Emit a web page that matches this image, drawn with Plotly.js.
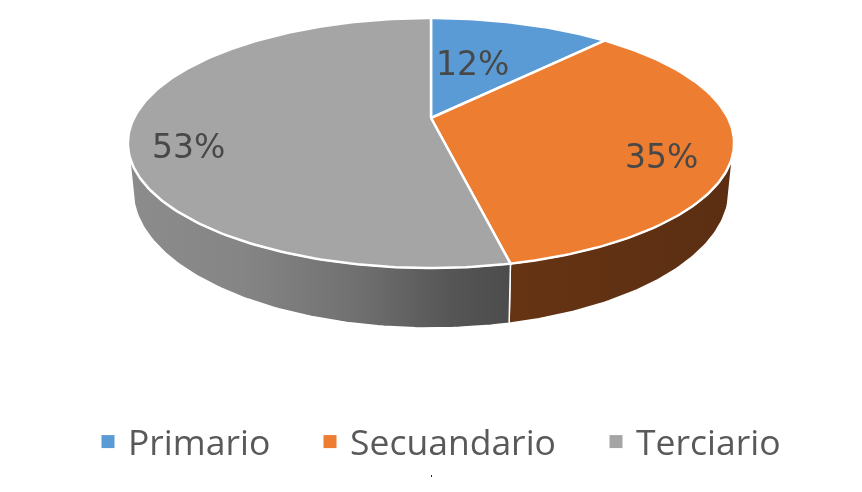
<!DOCTYPE html>
<html>
<head>
<meta charset="utf-8">
<script src="https://cdn.plot.ly/plotly-3.0.1.min.js"></script>
<style>html,body{margin:0;padding:0;background:#fff}#c{width:862px;height:492px;filter:blur(0.4px)}</style>
</head>
<body>
<div id="c"></div>
<script>
const categories = ['Primario', 'Secuandario', 'Terciario'];
const shares = [11.7, 34.8, 53.4];
const topColors = ['#5B9BD5', '#ED7D31', '#A5A5A5'];
const wallScales = [
  null,
  [[0, '#663413'], [1, '#5b2e13']],
  [[0, '#8c8c8c'], [0.3, '#858585'], [0.6, '#707070'], [0.85, '#555555'], [1, '#4c4c4c']]
];
const labelAnchors = [[472, 63], [661, 156], [188, 146]];
const legendSpots = [[88, 442], [310, 442], [596, 442]];

// perspective view of the pie
const view = {cx: 431, cy: 118, A: 297, B: 120, k: 0.2};
const rim = {cx: 431, cy: 163, A: 292, B: 132, k: 0.2};
const wallFrom = 107, wallTo = 253;

function proj(v, deg) {
  const t = deg * Math.PI / 180, s = Math.sin(t), c = Math.cos(t), d = 1 + v.k * c;
  return [v.cx + v.A * s / d, v.cy - v.B * c / d];
}
function arc(v, a, b) {
  const n = Math.max(2, Math.ceil(Math.abs(b - a))), out = [];
  for (let i = 0; i <= n; i++) out.push(proj(v, a + (b - a) * i / n));
  return out;
}
const total = shares.reduce((p, q) => p + q, 0);
let acc = 0;
const bounds = shares.map(s => { const a = acc; acc += s / total * 360; return [a, acc]; });

const traces = [];
bounds.forEach((b, i) => {
  const a0 = Math.max(b[0], wallFrom), a1 = Math.min(b[1], wallTo);
  if (a1 <= a0) return;
  const pts = arc(view, a0, a1).concat(arc(rim, a1, a0));
  pts.push(pts[0]);
  traces.push({
    type: 'scatter', mode: 'lines', showlegend: false, hoverinfo: 'skip',
    x: pts.map(p => p[0]), y: pts.map(p => p[1]),
    fill: 'toself', fillgradient: {type: 'horizontal', colorscale: wallScales[i]},
    line: {color: '#ffffff', width: 1.5}
  });
});
bounds.forEach((b, i) => {
  const pts = [[view.cx, view.cy]].concat(arc(view, b[0], b[1]));
  pts.push(pts[0]);
  traces.push({
    type: 'scatter', mode: 'lines', showlegend: false, name: categories[i],
    x: pts.map(p => p[0]), y: pts.map(p => p[1]),
    fill: 'toself', fillcolor: topColors[i],
    line: {color: '#ffffff', width: 2.5},
    text: Math.round(shares[i] / total * 100) + '%', hoverinfo: 'name+text'
  });
});
const legendIds = ['legend', 'legend2', 'legend3'];
categories.forEach((c, i) => {
  traces.push({
    type: 'scatter', mode: 'markers', name: c, legend: legendIds[i],
    x: [null], y: [null],
    marker: {symbol: 'square', size: 13, color: topColors[i]}
  });
});

const layout = {
  width: 862, height: 492,
  margin: {l: 0, r: 0, t: 0, b: 0},
  paper_bgcolor: '#ffffff', plot_bgcolor: '#ffffff',
  showlegend: true,
  xaxis: {range: [0, 862], visible: false, fixedrange: true},
  yaxis: {range: [492, 0], visible: false, fixedrange: true},
  annotations: shares.map((s, i) => ({
    x: labelAnchors[i][0], y: labelAnchors[i][1], xref: 'x', yref: 'y',
    text: Math.round(s / total * 100) + '%', showarrow: false,
    font: {family: 'DejaVu Sans', size: 33, color: '#484848'}
  })),
  shapes: [{type: 'rect', xref: 'x', yref: 'y', x0: 431, x1: 432, y0: 475, y1: 477,
    fillcolor: '#222222', line: {width: 0}}]
};
legendIds.forEach((id, i) => {
  layout[id] = {
    orientation: 'v', x: legendSpots[i][0] / 862, y: 1 - legendSpots[i][1] / 492,
    xanchor: 'left', yanchor: 'middle', bgcolor: 'rgba(0,0,0,0)',
    font: {family: 'Open Sans', size: 35.5, color: '#595959'}
  };
});
Plotly.newPlot('c', traces, layout, {displayModeBar: false, staticPlot: true});
</script>
</body>
</html>
